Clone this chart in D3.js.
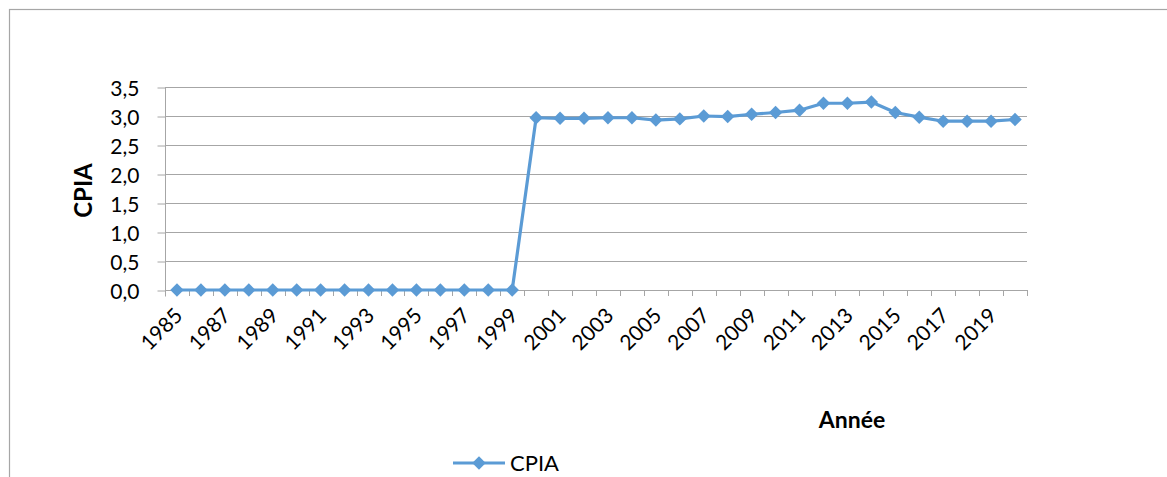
<!DOCTYPE html>
<html>
<head>
<meta charset="utf-8">
<script src="https://cdn.jsdelivr.net/npm/d3@7"></script>
<style>
  html, body { margin: 0; padding: 0; background: #fff; }
  svg { display: block; font-family: Lato, "Open Sans", sans-serif; }
</style>
</head>
<body>
<svg id="chart" width="1167" height="477"></svg>
<script>
// CPIA score by year
const years = d3.range(1985, 2021).map(String);
const cpia = [
  0, 0, 0, 0, 0, 0, 0, 0, 0, 0, 0, 0, 0, 0, 0,
  2.97, 2.96, 2.96, 2.97, 2.97, 2.93, 2.95, 3.00, 2.99, 3.03, 3.06,
  3.10, 3.22, 3.22, 3.24, 3.06, 2.98, 2.91, 2.91, 2.91, 2.94
];
const yTicks = [0, 0.5, 1, 1.5, 2, 2.5, 3, 3.5];
const xLabelYears = years.filter((d, i) => i % 2 === 0);
const seriesName = "CPIA";
const xTitle = "Année";
const yTitle = "CPIA";

const color = "#5B9BD5";
const gridColor = "#a6a6a6";
const fmt = v => d3.format(".1f")(v).replace(".", ",");

const svg = d3.select("#chart");
const W = 1167, H = 477;

// chart frame
svg.append("rect")
  .attr("x", 9.5).attr("y", 9.5)
  .attr("width", W + 20).attr("height", H + 20)
  .attr("fill", "#fff").attr("stroke", "#a6a6a6").attr("stroke-width", 1.2);

const plotLeft = 165, plotRight = 1027, plotTop = 87, plotBottom = 290;

const x = d3.scaleBand().domain(years).range([plotLeft, plotRight]).padding(0);
const y = d3.scaleLinear().domain([0, 3.5]).range([plotBottom, plotTop]);
const cx = d => x(d) + x.bandwidth() / 2;

// horizontal gridlines
svg.append("g")
  .selectAll("line")
  .data(yTicks.filter(v => v > 0))
  .join("line")
  .attr("x1", plotLeft).attr("x2", plotRight)
  .attr("y1", d => Math.round(y(d)) + 0.5).attr("y2", d => Math.round(y(d)) + 0.5)
  .attr("stroke", gridColor).attr("stroke-width", 1);

// y axis
const yAxis = svg.append("g")
  .attr("transform", `translate(${plotLeft + 0.5},0.5)`)
  .call(d3.axisLeft(y).tickValues(yTicks).tickFormat(fmt).tickSize(8).tickPadding(18));
yAxis.select(".domain").attr("stroke", gridColor).attr("d", `M0,${plotTop}V${plotBottom + 6}`);
yAxis.selectAll(".tick line").attr("stroke", gridColor);
yAxis.selectAll("text").attr("font-size", 21).attr("fill", "#000")
  .attr("font-family", "Lato, sans-serif").attr("dy", "0.36em");

// x axis line and tick marks between categories
const xg = svg.append("g");
xg.append("line")
  .attr("x1", plotLeft).attr("x2", plotRight)
  .attr("y1", Math.round(plotBottom) + 0.5).attr("y2", Math.round(plotBottom) + 0.5)
  .attr("stroke", gridColor);
const boundaries = years.map(d => x(d)).concat([plotRight]);
xg.selectAll(".xt")
  .data(boundaries)
  .join("line")
  .attr("class", "xt")
  .attr("x1", d => Math.round(d) + 0.5).attr("x2", d => Math.round(d) + 0.5)
  .attr("y1", plotBottom).attr("y2", plotBottom + 6)
  .attr("stroke", gridColor);

// x tick labels, rotated
xg.selectAll(".xl")
  .data(xLabelYears)
  .join("text")
  .attr("class", "xl")
  .attr("transform", d => `translate(${cx(d) + 7},${plotBottom + 27}) rotate(-45)`)
  .attr("text-anchor", "end")
  .attr("font-size", 21)
  .attr("fill", "#000")
  .text(d => d);

// axis titles
svg.append("text")
  .attr("transform", `translate(92,${(plotTop + plotBottom) / 2 + 2}) rotate(-90)`)
  .attr("text-anchor", "middle")
  .attr("font-size", 24).attr("font-weight", "bold")
  .text(yTitle);

svg.append("text")
  .attr("x", 852).attr("y", 428)
  .attr("text-anchor", "middle")
  .attr("font-size", 23).attr("font-weight", "bold")
  .text(xTitle);

// series line
const line = d3.line()
  .x((d, i) => cx(years[i]))
  .y(d => y(d));

svg.append("path")
  .datum(cpia)
  .attr("d", line)
  .attr("fill", "none")
  .attr("stroke", color)
  .attr("stroke-width", 3.2)
  .attr("stroke-linejoin", "round");

const diamond = d3.symbol().type(d3.symbolDiamond2).size(115);
svg.append("g")
  .selectAll("path")
  .data(cpia)
  .join("path")
  .attr("transform", (d, i) => `translate(${cx(years[i])},${y(d)})`)
  .attr("d", diamond)
  .attr("fill", color);

// legend
const lg = svg.append("g").attr("transform", "translate(453,463)");
lg.append("line").attr("x1", 0).attr("x2", 52).attr("y1", 0).attr("y2", 0)
  .attr("stroke", color).attr("stroke-width", 3.2);
lg.append("path").attr("transform", "translate(26,0)").attr("d", diamond).attr("fill", color);
lg.append("text").attr("x", 57).attr("y", 8)
  .attr("font-size", 22).attr("fill", "#000")
  .text(seriesName);
</script>
</body>
</html>
